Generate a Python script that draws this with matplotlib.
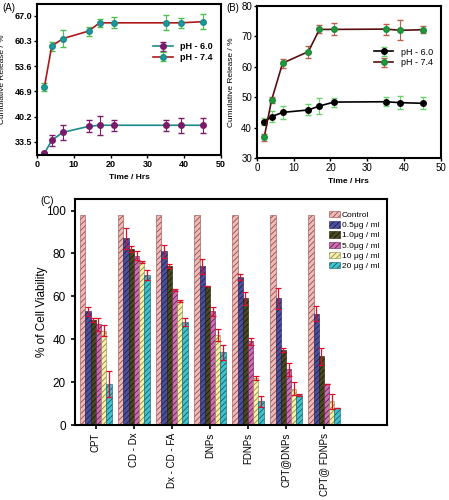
import matplotlib.pyplot as plt
import numpy as np

plt.rcParams['font.family'] = ['Liberation Sans', 'DejaVu Sans']

time_hrs = [2, 4, 7, 14, 17, 21, 35, 39, 45]

# panel A
a_ph60 = [30.4, 33.9, 36.0, 37.6, 37.9, 37.9, 37.9, 37.9, 37.9]
a_ph60_err = [0.5, 1.5, 2.0, 1.6, 2.5, 1.4, 1.4, 2.0, 2.0]
a_ph74 = [48.0, 58.9, 60.9, 62.9, 65.1, 65.1, 65.1, 65.1, 65.4]
a_ph74_err = [1.0, 1.2, 2.2, 1.2, 1.0, 1.5, 2.0, 1.3, 2.0]

# panel B
b_ph60 = [41.9, 43.6, 45.0, 45.8, 47.1, 48.4, 48.5, 48.2, 48.0]
b_ph60_err = [1.2, 1.8, 2.2, 1.8, 2.5, 1.5, 1.5, 2.2, 2.0]
b_ph74 = [36.8, 49.0, 61.2, 65.0, 72.3, 72.3, 72.4, 72.0, 72.2]
b_ph74_err = [1.2, 1.0, 1.5, 2.0, 1.3, 2.0, 1.8, 3.3, 1.2]

# panel C
groups = ['CPT', 'CD - Dx', 'Dx - CD - FA', 'DNPs', 'FDNPs', 'CPT@DNPs', 'CPT@ FDNPs']
series = ['Control', '0.5\u03bcg / ml', '1.0\u03bcg / ml', '5.0\u03bcg / ml', '10 \u03bcg / ml', '20 \u03bcg / ml']
viab = [
    [98, 98, 98, 98, 98, 98, 98],
    [53, 87, 81, 74, 69, 59, 52],
    [49, 82, 74, 65, 59, 35, 32],
    [47, 79, 63, 53, 39, 26, 19],
    [44, 76, 58, 42, 22, 17, 11],
    [19, 70, 48, 34, 11, 14, 8],
]
viab_err = [
    [0, 0, 0, 0, 0, 0, 0],
    [2, 5, 3, 3.5, 1.5, 5, 3.5],
    [1, 1.5, 1, 0, 3, 1, 4],
    [3, 2, 0.5, 2, 1.5, 3, 0],
    [2.5, 0.5, 0.5, 3, 1, 3, 3.5],
    [6, 2.5, 2, 3.5, 2.5, 0.5, 0],
]
bar_colors = ['#ebbcb8', '#4b4f9e', '#4a4a22', '#d06db0', '#f5f2a8', '#3fc3d0']
hatch_colors = ['#9a4a4a', '#202050', '#1a1a08', '#602050', '#8a8450', '#1a5a60']

fig = plt.figure(figsize=(4.49, 5), dpi=100)

# ---- A
axA = fig.add_axes([0.0824, 0.69, 0.41, 0.302])
axA.errorbar(time_hrs, a_ph60, yerr=a_ph60_err, color='#1a8a8a', lw=1.2,
             marker='o', ms=4, mfc='#7a1a6a', mec='#7a1a6a',
             ecolor='#7a1a6a', elinewidth=0.8, capsize=2, label='pH - 6.0')
axA.errorbar(time_hrs, a_ph74, yerr=a_ph74_err, color='#b01818', lw=1.2,
             marker='o', ms=4, mfc='#1a9a9a', mec='#1a8a8a',
             ecolor='#4cc04c', elinewidth=0.8, capsize=2, label='pH - 7.4')
axA.set_xlim(0, 50)
axA.set_ylim(30, 70.1)
axA.set_yticks([33.5, 40.2, 46.9, 53.6, 60.3, 67.0])
axA.set_yticklabels(['33.5', '40.2', '46.9', '53.6', '60.3', '67.0'])
axA.set_xticks([0, 10, 20, 30, 40, 50])
axA.tick_params(labelsize=6.5, length=2, width=1, pad=1.5)
for lab in axA.get_xticklabels() + axA.get_yticklabels():
    lab.set_fontweight('bold')
axA.set_xlabel('Time / Hrs', fontsize=6, fontweight='bold')
axA.set_ylabel('Cumulative Release / %', fontsize=6)
axA.yaxis.set_label_coords(-0.17, 0.5)
for s in axA.spines.values():
    s.set_linewidth(1.5)
axA.legend(loc='upper right', bbox_to_anchor=(1.0, 0.8), frameon=False,
           prop={'size': 6.5, 'weight': 'bold'}, handlelength=2.2, labelspacing=0.2)
fig.text(0.005, 0.978, '(A)', fontsize=7)

# ---- B
axB = fig.add_axes([0.572, 0.684, 0.41, 0.304])
axB.errorbar(time_hrs, b_ph60, yerr=b_ph60_err, color='black', lw=1.2,
             marker='o', ms=4, mfc='black', mec='black',
             ecolor='#6ad26a', elinewidth=0.8, capsize=2, label='pH - 6.0')
axB.errorbar(time_hrs, b_ph74, yerr=b_ph74_err, color='#5a0e0e', lw=1.2,
             marker='o', ms=4, mfc='#1e9a3a', mec='#1e8a3a',
             ecolor='#b8604a', elinewidth=0.8, capsize=2, label='pH - 7.4')
axB.set_xlim(0, 50)
axB.set_ylim(30, 80)
axB.set_xticks([0, 10, 20, 30, 40, 50])
axB.set_yticks([30, 40, 50, 60, 70, 80])
axB.tick_params(labelsize=7, length=2, width=1, pad=1.5)
axB.set_xlabel('Time / Hrs', fontsize=6, fontweight='bold')
axB.set_ylabel('Cumulative Release / %', fontsize=6)
axB.yaxis.set_label_coords(-0.12, 0.5)
for s in axB.spines.values():
    s.set_linewidth(1.5)
axB.legend(loc='upper right', bbox_to_anchor=(1.0, 0.78), frameon=False,
           fontsize=6.5, handlelength=2.2, labelspacing=0.2)
fig.text(0.505, 0.978, '(B)', fontsize=7)

# ---- C
axC = fig.add_axes([0.167, 0.15, 0.695, 0.452])
x = np.arange(len(groups))
w = 0.137
plt.rcParams['hatch.linewidth'] = 0.6
for i, name in enumerate(series):
    pos = x + (i - 2.5) * w
    axC.bar(pos, viab[i], w, color=bar_colors[i], edgecolor=hatch_colors[i],
            linewidth=0.4, hatch='//////', label=name)
    if i > 0:
        axC.errorbar(pos, viab[i], yerr=viab_err[i], fmt='none', ecolor='#d8102a',
                     elinewidth=0.9, capsize=2, capthick=0.9)
axC.set_xlim(-0.55, 7.66)
axC.set_ylim(0, 105.4)
axC.set_yticks([0, 20, 40, 60, 80, 100])
axC.set_xticks(x)
axC.set_xticklabels(groups, rotation=90, fontsize=7)
axC.tick_params(axis='y', labelsize=8.5)
axC.tick_params(axis='x', pad=2.5)
axC.tick_params(length=3, width=1.2)
axC.set_ylabel('% of Cell Viability', fontsize=8.5)
axC.yaxis.set_label_coords(-0.085, 0.5)
for s in axC.spines.values():
    s.set_linewidth(1.5)
axC.legend(loc='upper right', bbox_to_anchor=(1.0, 0.98), frameon=False,
           fontsize=6, handlelength=1.3, handleheight=0.8, labelspacing=0.25,
           handletextpad=0.2)
fig.text(0.09, 0.592, '(C)', fontsize=7)

fig.savefig('out.png', dpi=100)
